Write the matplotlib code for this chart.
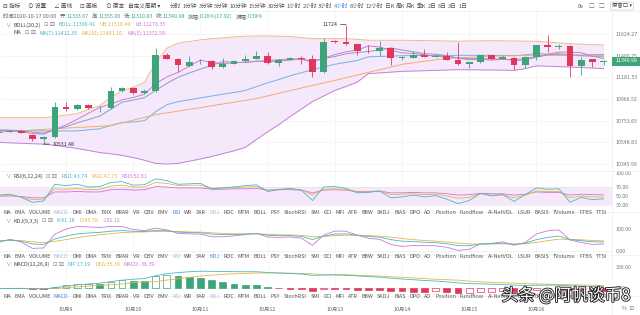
import numpy as np
import matplotlib.pyplot as plt
import matplotlib.patheffects as pe
from matplotlib.lines import Line2D
from matplotlib.patches import Rectangle
from matplotlib.ticker import NullLocator, NullFormatter
from matplotlib.transforms import blended_transform_factory

plt.rcParams['font.family'] = ['Noto Sans CJK SC', 'DejaVu Sans']

# ---------------- data (4h candles, 2020-10-08 00:00 .. 2020-10-17 00:00) ----------------
opens = [10640, 10649, 10659, 10620, 10582, 10595, 10886, 10870, 10912, 10876,
         10880, 11041, 11078, 11028, 11044, 11406, 11372, 11300, 11345, 11345,
         11286, 11318, 11347, 11370, 11396, 11325, 11361, 11378, 11372, 11235,
         11553, 11545, 11520, 11462, 11450, 11478, 11378, 11382, 11413, 11392,
         11399, 11361, 11313, 11334, 11406, 11372, 11382, 11303, 11389, 11516,
         11492, 11502, 11296, 11364, 11333.07]
highs = [10664, 10664, 10664, 10630, 10605, 10941, 10935, 10917, 10918, 10896,
         11084, 11090, 11085, 11068, 11478, 11430, 11380, 11396, 11365, 11355,
         11382, 11355, 11406, 11447, 11440, 11368, 11390, 11396, 11413, 11579,
         11560, 11724, 11525, 11509, 11551, 11485, 11400, 11447, 11472, 11408,
         11437, 11541, 11340, 11412, 11410, 11410, 11390, 11395, 11515, 11614,
         11524, 11510, 11388, 11370, 11355.00]
lows = [10630, 10645, 10635, 10563, 10531.48, 10590, 10846, 10862, 10870, 10836,
        10872, 11035, 11020, 11020, 11038, 11365, 11232, 11290, 11320, 11270,
        11280, 11312, 11340, 11365, 11315, 11295, 11355, 11320, 11184, 11225,
        11530, 11515, 11413, 11433, 11399, 11310, 11362, 11375, 11385, 11388,
        11355, 11305, 11276, 11328, 11366, 11368, 11252, 11276, 11361, 11440,
        11472, 11184, 11209, 11286, 11310.83]
closes = [10649, 10659, 10640, 10582, 10595, 10886, 10869, 10912, 10875, 10882,
          11041, 11078, 11028, 11044, 11406, 11372, 11310, 11341, 11352, 11286,
          11318, 11347, 11372, 11399, 11325, 11361, 11382, 11365, 11235, 11538,
          11545, 11520, 11450, 11457, 11483, 11378, 11389, 11413, 11389, 11403,
          11361, 11313, 11334, 11406, 11372, 11389, 11303, 11389, 11509, 11492,
          11502, 11296, 11361, 11332.06, 11349.98]

ma5 = [10655, 10655, 10650, 10632, 10625, 10672, 10714, 10769, 10827, 10885,
       10916, 10958, 10981, 11015, 11119, 11186, 11232, 11295, 11356, 11332,
       11321, 11329, 11335, 11344, 11352, 11361, 11368, 11367, 11334, 11376,
       11413, 11441, 11458, 11502, 11491, 11458, 11431, 11424, 11410, 11394,
       11391, 11376, 11360, 11363, 11357, 11363, 11361, 11372, 11392, 11416,
       11439, 11438, 11432, 11397, 11372.59]
ma7 = [10665, 10662, 10658, 10645, 10636, 10670, 10697, 10735, 10766, 10800,
       10866, 10935, 10955, 10980, 11051, 11122, 11183, 11226, 11265, 11302,
       11341, 11332, 11332, 11345, 11343, 11344, 11358, 11364, 11348, 11372,
       11393, 11421, 11434, 11444, 11461, 11482, 11460, 11441, 11423, 11416,
       11402, 11378, 11372, 11374, 11368, 11368, 11354, 11358, 11386, 11409,
       11422, 11411, 11407, 11412, 11412.35]

ma30_idx = [0, 5, 10, 14, 18, 23, 28, 30, 33, 36, 40, 44, 48, 54]
ma30 = [10645, 10678, 10707, 10814, 10882, 10971, 11101, 11151, 11232, 11313,
        11375, 11396, 11406, 11401.10]

boll_idx = [0, 4, 5, 7, 9, 10, 11, 12, 13, 14, 15, 16, 18, 19, 21, 22, 24, 25,
            26, 28, 30, 31, 32, 33, 36, 41, 44, 46, 47, 48, 51, 54]
boll_ub = [10784, 10784, 10794, 10824, 10902, 10981, 11051, 11082, 11131, 11334,
           11478, 11530, 11565, 11577, 11595, 11603, 11605, 11603, 11600, 11577,
           11577, 11577, 11570, 11561, 11561, 11551, 11556, 11553, 11551, 11551,
           11525, 11510.49]
boll_lb = [10547, 10531, 10520, 10490, 10452, 10440, 10425, 10405, 10380, 10350,
           10345, 10350, 10392, 10415, 10468, 10500, 10649, 10717, 10794, 10941,
           11051, 11090, 11134, 11219, 11242, 11259, 11256, 11252, 11269, 11298,
           11286, 11270.35]
boll_mid = [10665, 10657, 10657, 10657, 10677, 10710, 10738, 10743, 10755, 10842,
            10911, 10940, 10978, 10996, 11031, 11051, 11127, 11160, 11197, 11259,
            11314, 11333, 11352, 11390, 11401, 11405, 11406, 11402, 11410, 11424,
            11405, 11390.41]

rsi1 = [52, 54, 47, 36, 39, 76, 73, 76, 70, 71, 80, 82, 74, 75, 88, 84, 76, 77, 78, 66,
        68, 70, 73, 75, 60, 64, 67, 63, 40, 70, 71, 67, 57, 58, 61, 46, 48, 52, 48, 51,
        43, 33, 40, 56, 50, 53, 38, 53, 68, 65, 66, 36, 47, 42, 43.74]
rsi2 = [50, 51, 48, 42, 43, 66, 65, 67, 64, 65, 72, 74, 70, 70, 80, 78, 73, 74, 74, 67,
        68, 69, 70, 71, 63, 65, 66, 64, 52, 65, 66, 64, 59, 59, 61, 53, 54, 55, 53, 54,
        50, 45, 47, 55, 52, 53, 46, 52, 61, 60, 60, 46, 50, 48, 47.73]
rsi3 = [50, 50, 49, 46, 46, 59, 59, 60, 59, 59, 64, 65, 63, 64, 71, 70, 68, 68, 68, 65,
        65, 66, 66, 67, 63, 64, 64, 63, 57, 63, 64, 63, 60, 60, 61, 57, 57, 58, 57, 57,
        55, 52, 53, 56, 55, 55, 52, 54, 59, 58, 58, 52, 54, 53, 52.61]

kdj_k = [45, 50, 45, 32, 30, 55, 68, 78, 82, 85, 90, 93, 90, 89, 94, 92, 86, 84, 83, 77,
         75, 75, 77, 79, 72, 70, 70, 67, 52, 68, 77, 78, 72, 66, 63, 52, 45, 43, 40, 38,
         33, 25, 24, 32, 33, 36, 30, 35, 52, 62, 68, 52, 47, 42, 41.18]
kdj_d = [48, 48, 47, 42, 38, 44, 52, 61, 68, 74, 79, 84, 86, 87, 89, 90, 89, 87, 86, 83,
         80, 78, 78, 78, 76, 74, 73, 71, 65, 66, 70, 72, 72, 70, 68, 63, 57, 52, 48, 45,
         41, 36, 32, 32, 32, 33, 32, 33, 39, 47, 54, 53, 51, 48, 45.78]
kdj_j = [39, 54, 41, 12, 14, 77, 100, 112, 110, 107, 112, 111, 98, 93, 104, 96, 80, 78, 77, 65,
         65, 69, 75, 81, 64, 62, 64, 59, 26, 72, 91, 90, 72, 58, 53, 30, 21, 25, 24, 24,
         17, 3, 8, 32, 35, 42, 26, 39, 78, 92, 96, 50, 39, 30, 32.12]

macd_hist = [-6, -5, -6, -10, -12, 20, 45, 58, 62, 55, 90, 108, 100, 95, 170, 185, 175, 160, 140, 110,
             80, 62, 48, 36, 14, -6, -10, -14, -45, -12, -14, -16, -22, -26, -30, -42, -48, -52, -55, -50,
             -62, -78, -70, -60, -55, -50, -58, -48, -35, -26, -20, -34, -35, -35.5, -36.39]
macd_dif = [-10, -8, -8, -12, -15, 5, 25, 45, 58, 68, 90, 112, 125, 135, 175, 205, 220, 232, 240, 238,
            235, 233, 232, 232, 222, 213, 207, 200, 180, 185, 185, 182, 172, 163, 155, 140, 128, 118, 107, 99,
            87, 73, 63, 59, 54, 50, 40, 37, 40, 41, 41, 30, 26, 21, 17.19]
macd_dea = [-7, -5.5, -5, -7, -9, -5, 2.5, 16, 27, 40.5, 45, 58, 75, 87.5, 90, 112.5, 132.5, 152, 170, 183,
            195, 202, 208, 214, 215, 216, 212, 207, 202.5, 191, 192, 190, 183, 176, 170, 161, 152, 144, 134.5, 124,
            118, 112, 98, 89, 81.5, 75, 69, 61, 57.5, 54, 51, 47, 43.5, 38.75, 35.39]

price_ticks = [10345.99, 10548.83, 10753.65, 10966.52, 11181.53, 11400.75, 11624.27]
day_labels = ['10月9', '10月10', '10月11', '10月12', '10月13', '10月14', '10月15', '10月16']
day_idx = [6, 12, 18, 24, 30, 36, 42, 48]

tabs = ['MA', 'EMA', 'VOLUME', 'MACD', 'DMI', 'DMA', 'TRIX', 'BRAR', 'VR', 'OBV', 'EMV', 'RSI',
        'WR', 'SAR', 'KDJ', 'ROC', 'MTM', 'BOLL', 'PSY', 'StochRSI', 'SMI', 'CCI', 'MFI', 'ATR',
        'BBW', 'SKDJ', 'BIAS', 'DPO', 'AO', 'Position', 'Fundflow', 'AI-NetVOL', 'LSUR', 'BASIS',
        'TVolume', 'FTBS', 'TTSI']
periods = ['分时', '1分钟', '3分钟', '5分钟', '10分钟', '15分钟', '30分钟', '1小时', '2小时', '3小时',
           '4小时', '6小时', '12小时', '日K', '周K', '月K', '季K', '2日', '6日', '3日', '1日']

# ---------------- colours ----------------
GREEN = '#3ea57a'
RED = '#e2375c'
TEAL = '#45b8c8'
YEL = '#e9b441'
PINK = '#d275d3'
GREY = '#666666'
LIGHT = '#eeeeee'

W, H = 640, 315
fig = plt.figure(figsize=(6.4, 3.15), dpi=100)
fig.patch.set_facecolor('white')
renderer = fig.canvas.get_renderer()


def box(x0, y0, x1, y1):
    a = fig.add_axes([x0 / W, 1 - y1 / H, (x1 - x0) / W, (y1 - y0) / H])
    for s in a.spines.values():
        s.set_visible(False)
    a.set_xlim(0.1, 54.75)
    a.set_xticks([])
    a.yaxis.tick_right()
    a.tick_params(axis='y', length=0, pad=2.5, labelsize=3.8, labelcolor='#777777')
    for d in day_idx:
        a.axvline(d, color='#f3f3f3', lw=0.5, zorder=0)
    return a


def run(xpx, ypx, parts, size=3.9):
    # parts: (text, colour, gap after in px)
    for txt, col, gap in parts:
        t = fig.text(xpx / W, 1 - ypx / H, txt, fontsize=size, color=col, ha='left', va='center')
        xpx += t.get_window_extent(renderer).width + gap
    return xpx


def spread(x0, x1, ypx, words, colours, size=3.9):
    ts = [fig.text(0, 1 - ypx / H, w, fontsize=size, color=c, ha='left', va='center')
          for w, c in zip(words, colours)]
    ws = [t.get_window_extent(renderer).width for t in ts]
    gap = (x1 - x0 - sum(ws)) / (len(ws) - 1)
    xp = x0
    for t, w in zip(ts, ws):
        t.set_x(xp / W)
        xp += w + gap


x = np.arange(len(closes))

# ---------------- main price panel ----------------
ax = box(0, 10, 612, 171)
ax.set_yscale('log')
ax.set_ylim(10280, 11879)
ax.yaxis.set_minor_locator(NullLocator())
ax.yaxis.set_minor_formatter(NullFormatter())
ax.set_yticks(price_ticks)
ax.set_yticklabels(['%.2f' % v for v in price_ticks])
for v in price_ticks:
    ax.axhline(v, color='#f3f3f3', lw=0.5, zorder=0)

ax.fill_between(boll_idx, boll_lb, boll_ub, color='#f5e8fb', lw=0, zorder=1)
ax.plot(boll_idx, boll_ub, color='#f0b88a', lw=0.7, zorder=2)
ax.plot(boll_idx, boll_lb, color='#c383d8', lw=0.7, zorder=2)
ax.plot(boll_idx, boll_mid, color='#72b4e0', lw=0.7, zorder=2)
ax.plot(ma30_idx, ma30, color='#f1ad6c', lw=0.7, zorder=2)
ax.plot(x, ma7, color='#8c9fb8', lw=0.7, zorder=2)
ax.plot(x, ma5, color='#d27ad0', lw=0.7, zorder=2)

for i in x:
    col = GREEN if closes[i] >= opens[i] else RED
    ax.vlines(i, lows[i], highs[i], color=col, lw=0.6, zorder=3)
    lo, hi = sorted((opens[i], closes[i]))
    ax.bar(i, max(hi - lo, 3), bottom=lo, width=0.6, color=col, lw=0, zorder=4)

ax.annotate('11724', xy=(31, 11724), xytext=(-6, 0), textcoords='offset points',
            ha='right', va='center', fontsize=3.8, color='#333333',
            arrowprops=dict(arrowstyle='-', color='#333333', lw=0.5, shrinkA=0, shrinkB=0))
ax.annotate('10531.48', xy=(4, 10531.48), xytext=(6, 0), textcoords='offset points',
            ha='left', va='center', fontsize=3.8, color='#333333',
            arrowprops=dict(arrowstyle='-', color='#333333', lw=0.5, shrinkA=0, shrinkB=0))

# last price badge
fig.patches.append(Rectangle((612 / W, 1 - 65.5 / H), 28 / W, 9 / H, transform=fig.transFigure,
                             facecolor=GREEN, edgecolor='none', zorder=5))
fig.text(626 / W, 1 - 61 / H, '%.2f' % closes[-1], fontsize=3.8, color='white',
         ha='center', va='center', zorder=6)

# ---------------- RSI ----------------
ax_rsi = box(0, 172, 612, 210)
ax_rsi.set_ylim(18.9, 103.3)
ax_rsi.axhspan(30, 70, color='#f5e8fb', lw=0, zorder=0)
ax_rsi.set_yticks([100, 70, 50, 30])
ax_rsi.set_yticklabels(['100.00', '70.00', '50.00', '30.00'])
ax_rsi.axhline(70, color='#dddddd', lw=0.4, ls='--')
ax_rsi.axhline(30, color='#dddddd', lw=0.4, ls='--')
ax_rsi.plot(x, rsi3, color=PINK, lw=0.6)
ax_rsi.plot(x, rsi2, color=YEL, lw=0.6)
ax_rsi.plot(x, rsi1, color=TEAL, lw=0.6)

# ---------------- KDJ ----------------
ax_kdj = box(0, 224, 612, 253)
ax_kdj.set_ylim(-9, 123)
ax_kdj.set_yticks([100, 0])
ax_kdj.set_yticklabels(['100.00', '0.00'])
ax_kdj.axhline(0, color='#dddddd', lw=0.4, ls='--')
ax_kdj.plot(x, kdj_j, color=PINK, lw=0.6)
ax_kdj.plot(x, kdj_d, color=YEL, lw=0.6)
ax_kdj.plot(x, kdj_k, color=TEAL, lw=0.6)

# ---------------- MACD ----------------
ax_macd = box(0, 263, 612, 294)
ax_macd.set_ylim(-86, 357)
ax_macd.set_yticks([300, 0])
ax_macd.set_yticklabels(['300.00', '0.00'])
ax_macd.axhline(0, color='#dddddd', lw=0.4, ls='--')
for i in x:
    v = macd_hist[i]
    col = GREEN if v >= 0 else RED
    hollow = i > 0 and v > macd_hist[i - 1]
    ax_macd.bar(i, v, width=0.6, facecolor='white' if hollow else col,
                edgecolor=col, lw=0.5, zorder=3)
ax_macd.plot(x, macd_dea, color=YEL, lw=0.6, zorder=4)
ax_macd.plot(x, macd_dif, color=TEAL, lw=0.6, zorder=4)

# ---------------- separators ----------------
for yy in [11, 171.5, 212, 255, 295.5]:
    fig.add_artist(Line2D([0, 1], [1 - yy / H] * 2, color=LIGHT, lw=0.5))
fig.add_artist(Line2D([612 / W] * 2, [0, 1 - 11 / H], color=LIGHT, lw=0.5))

# ---------------- top toolbar ----------------
run(3, 6, [('⊟ 指标', '#444444', 8), ('⊙ 设置', '#444444', 8), ('∠ 画线', '#444444', 8),
           ('⊡ 画板', '#444444', 8), ('⊙ 原本', '#444444', 0)], size=4.1)
run(128, 6, [('自定义周期 ▾', '#444444', 0)], size=4.1)
spread(170, 467, 6, periods, ['#3d8be0' if p == '4小时' else '#555555' for p in periods], size=4.1)
run(578, 6, [('0s', '#555555', 5), ('□', '#777777', 4), ('□', '#777777', 0)], size=4.1)
fig.text(622 / W, 1 - 6 / H, '原窗口 ▾', fontsize=3.9, color='#444444', ha='center', va='center',
         bbox=dict(boxstyle='round,pad=0.25', fc='white', ec='#cccccc', lw=0.5))

# ---------------- info rows ----------------
V = '#30ad8c'
run(3, 16, [('时间2020-10-17 00:00', GREY, 3), ('开:', GREY, 0), ('11333.07', V, 3),
            ('高:', GREY, 0), ('11355.00', V, 3), ('低:', GREY, 0), ('11310.83', V, 3),
            ('收:', GREY, 0), ('11349.98', V, 3), ('涨幅:', GREY, 0), ('0.16%(17.92)', V, 3),
            ('振幅:', GREY, 0), ('0.39%', V, 0)])
run(5, 25, [('∨', '#888888', 3), ('BOLL(20,2)', '#444444', 3), ('⊡ ⊠', '#888888', 4),
            ('BOLL:11390.41', TEAL, 4), ('UB:11510.49', YEL, 4), ('LB:11270.35', PINK, 0)])
run(13, 33, [('MA', '#444444', 4), ('⊡ ⊠', '#888888', 4), ('MA(7):11412.35', TEAL, 4),
             ('MA(30):11401.10', YEL, 4), ('MA(5):11372.59', PINK, 0)])
run(5, 176, [('∨', '#888888', 3), ('RSI(6,12,24)', '#444444', 3), ('⊡ ⊠', '#888888', 4),
             ('RSI1:43.74', TEAL, 4), ('RSI2:47.73', YEL, 4), ('RSI3:52.61', PINK, 0)])
run(5, 221, [('∨', '#888888', 3), ('KDJ(9,3,3)', '#444444', 3), ('⊡ ⊠', '#888888', 4),
             ('K:41.18', TEAL, 4), ('D:45.78', YEL, 4), ('J:32.12', PINK, 0)])
run(5, 264, [('∨', '#888888', 3), ('MACD(12,26,9)', '#444444', 3), ('⊡ ⊠', '#888888', 4),
             ('DIF:17.19', TEAL, 4), ('DEA:35.39', YEL, 4), ('MACD:-36.39', PINK, 0)])

# ---------------- indicator tab rows ----------------
for ypx, active in [(213, 'RSI'), (256, 'KDJ'), (297, 'MACD')]:
    cols = []
    for w in tabs:
        if w == active:
            cols.append('#3d8be0')
        elif w in ('RSI', 'KDJ', 'MACD'):
            cols.append('#a6bfe0')
        else:
            cols.append('#555555')
    spread(3, 607, ypx, tabs, cols, size=3.9)

# ---------------- date axis ----------------
tr = blended_transform_factory(ax_macd.transData, fig.transFigure)
for d, lab in zip(day_idx, day_labels):
    ax_macd.text(d, 1 - 309 / H, lab, transform=tr, fontsize=3.9, color='#666666',
                 ha='center', va='center', clip_on=False)
fig.text(628 / W, 1 - 309 / H, '%  ⊡', fontsize=3.9, color='#777777', ha='center', va='center')

# watermark
fig.text(566 / W, 1 - 296 / H, '头条 @阿帆谈币8', fontsize=12, color='white', ha='center',
         va='center', zorder=10,
         path_effects=[pe.withStroke(linewidth=1.3, foreground='#222222')])

plt.savefig('out.png', dpi=100, facecolor='white')
